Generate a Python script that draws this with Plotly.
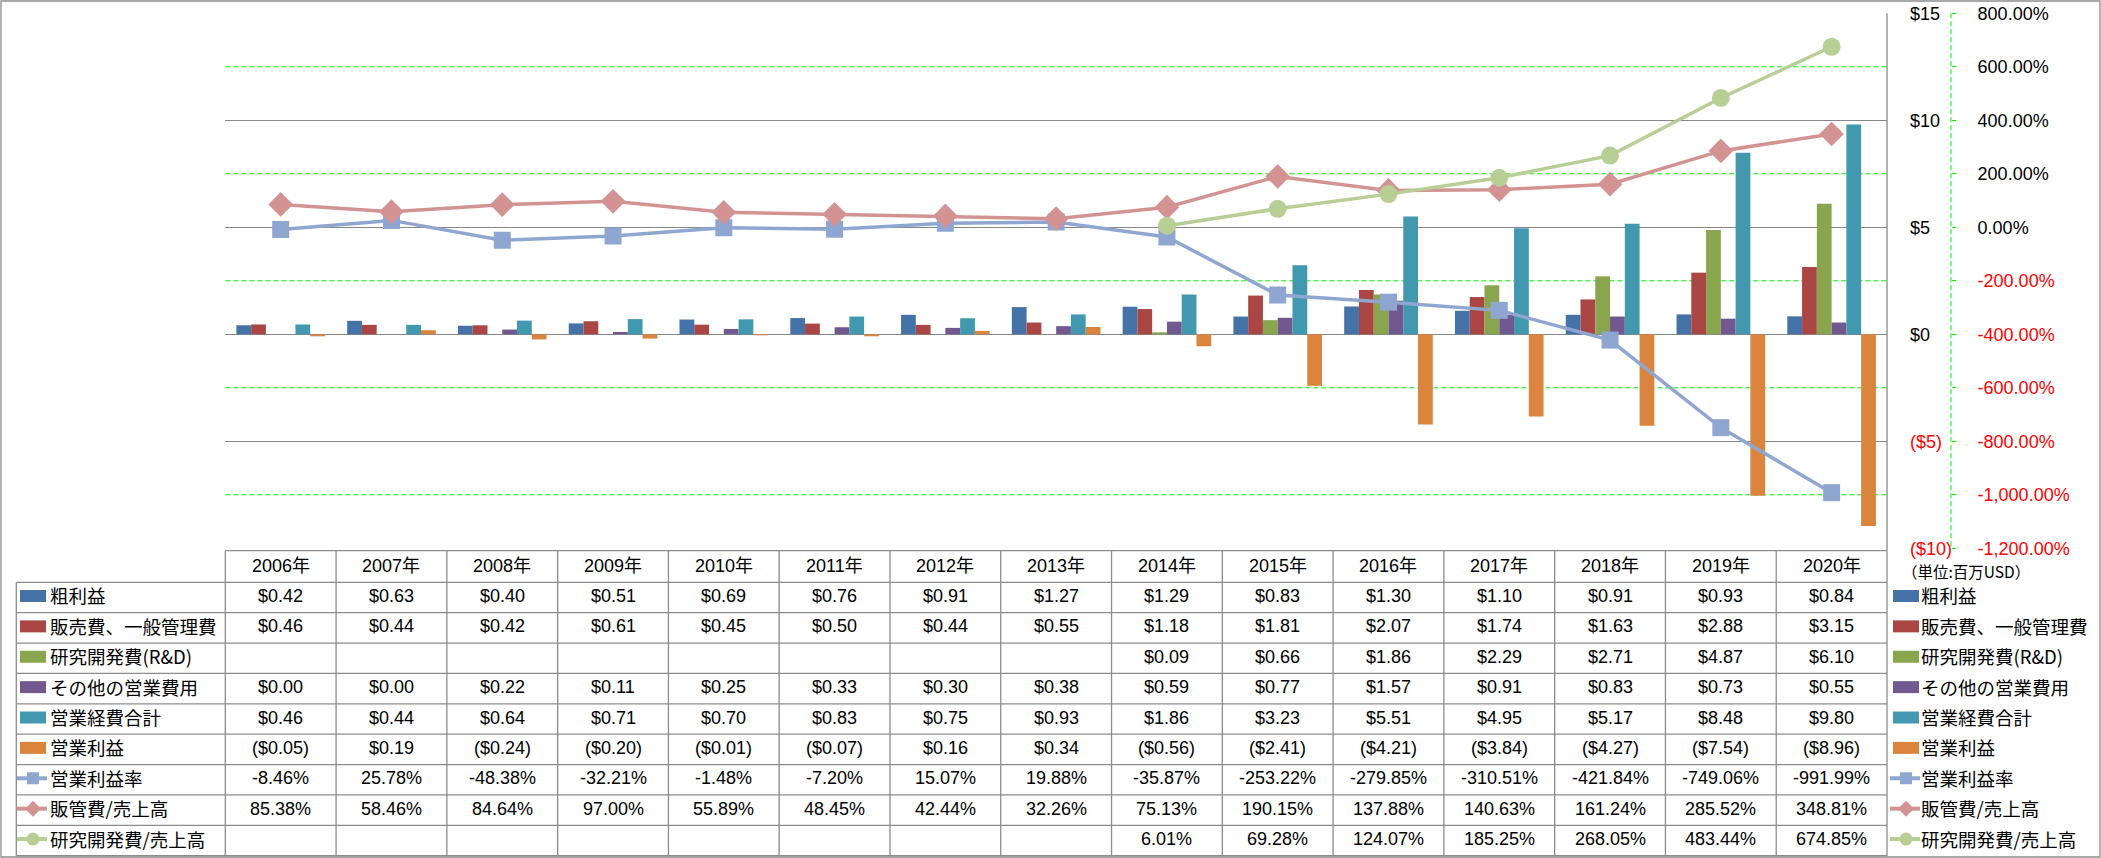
import plotly.graph_objects as go

# ---------------- data ----------------
years = ["2006年", "2007年", "2008年", "2009年", "2010年", "2011年", "2012年", "2013年",
         "2014年", "2015年", "2016年", "2017年", "2018年", "2019年", "2020年"]

gross_profit = [0.42, 0.63, 0.40, 0.51, 0.69, 0.76, 0.91, 1.27, 1.29, 0.83, 1.30, 1.10, 0.91, 0.93, 0.84]
sga = [0.46, 0.44, 0.42, 0.61, 0.45, 0.50, 0.44, 0.55, 1.18, 1.81, 2.07, 1.74, 1.63, 2.88, 3.15]
rnd = [None, None, None, None, None, None, None, None, 0.09, 0.66, 1.86, 2.29, 2.71, 4.87, 6.10]
other_opex = [0.00, 0.00, 0.22, 0.11, 0.25, 0.33, 0.30, 0.38, 0.59, 0.77, 1.57, 0.91, 0.83, 0.73, 0.55]
total_opex = [0.46, 0.44, 0.64, 0.71, 0.70, 0.83, 0.75, 0.93, 1.86, 3.23, 5.51, 4.95, 5.17, 8.48, 9.80]
op_income = [-0.05, 0.19, -0.24, -0.20, -0.01, -0.07, 0.16, 0.34, -0.56, -2.41, -4.21, -3.84, -4.27, -7.54, -8.96]

op_margin = [-8.46, 25.78, -48.38, -32.21, -1.48, -7.20, 15.07, 19.88, -35.87, -253.22, -279.85,
             -310.51, -421.84, -749.06, -991.99]
sga_ratio = [85.38, 58.46, 84.64, 97.00, 55.89, 48.45, 42.44, 32.26, 75.13, 190.15, 137.88,
             140.63, 161.24, 285.52, 348.81]
rnd_ratio = [None, None, None, None, None, None, None, None, 6.01, 69.28, 124.07, 185.25,
             268.05, 483.44, 674.85]

bar_names = ["粗利益", "販売費、一般管理費", "研究開発費(R&D)", "その他の営業費用", "営業経費合計", "営業利益"]
line_names = ["営業利益率", "販管費/売上高", "研究開発費/売上高"]

usd_ticks = [-10, -5, 0, 5, 10, 15]
pct_ticks = [-1200, -1000, -800, -600, -400, -200, 0, 200, 400, 600, 800]
unit_label = "（単位:百万USD）"

# ---------------- style / geometry ----------------
W, H = 2101, 858
PL, PR, PT, PB = 225.3, 1887.0, 13.3, 548.3
Y2X = 1951.0
HEAD_TOP = 550.7
ROW0 = 582.3
ROWH = 30.38
LBL_L = 16.3
GRID = "#878787"
TBL = "#8C8C8C"
GREEN = "#00F000"
RED = "#FF0000"
bar_colors = ["#4572A7", "#AA4643", "#89A54E", "#71588F", "#4198AF", "#DB843D"]
line_colors = ["#8FA7D0", "#D39392", "#B7CE95"]
line_symbols = ["square", "diamond", "circle"]
line_msize = [17, 19, 18]
NUMFONT = "Liberation Sans, Arial, Noto Sans CJK JP"
JPFONT = "Noto Sans CJK JP, Liberation Sans"
NUMSIZE = 18
LBLSIZE = 18.5


def px(x):
    return x / W


def py(y):
    return 1 - y / H


bar_series = [gross_profit, sga, rnd, other_opex, total_opex, op_income]
line_series = [op_margin, sga_ratio, rnd_ratio]

fig = go.Figure()
for name, vals, col in zip(bar_names, bar_series, bar_colors):
    fig.add_trace(go.Bar(x=years, y=vals, name=name, marker=dict(color=col, line=dict(width=0)),
                         showlegend=False, yaxis="y"))
for name, vals, col, sym, ms in zip(line_names, line_series, line_colors, line_symbols, line_msize):
    fig.add_trace(go.Scatter(x=years, y=vals, name=name, mode="lines+markers", yaxis="y2",
                             line=dict(color=col, width=3.5),
                             marker=dict(symbol=sym, size=ms, color=col, line=dict(width=0)),
                             showlegend=False))


def usd_fmt(v):
    if v is None:
        return ""
    if v < 0:
        return f"(${-v:.2f})"
    return f"${v:.2f}"


def pct_fmt(v):
    if v is None:
        return ""
    return f"{v:,.2f}%"


def usd_tick(v):
    if v < 0:
        return f'<span style="color:{RED}">(${-v})</span>'
    return f"${v}"


def pct_tick(v):
    t = f"{v:,.2f}%"
    if v < 0:
        return f'<span style="color:{RED}">{t}</span>'
    return t


shapes = []
annotations = []

# outer frame
shapes.append(dict(type="rect", xref="paper", yref="paper", x0=px(1), x1=px(2100), y0=py(857), y1=py(1),
                   line=dict(color=TBL, width=1.3), layer="above"))
# plot right border
shapes.append(dict(type="line", xref="paper", yref="paper", x0=px(PR), x1=px(PR), y0=py(PT), y1=py(HEAD_TOP),
                   line=dict(color=GRID, width=1.3)))
# green dashed secondary gridlines (those not covered by primary grid)
for v in pct_ticks:
    if (v - 800) % 400 != 0:
        shapes.append(dict(type="line", xref="paper", yref="y2", x0=px(PL), x1=px(PR), y0=v, y1=v,
                           line=dict(color=GREEN, width=1, dash="5px,3px"), layer="below"))
# green dashed secondary axis line
shapes.append(dict(type="line", xref="paper", yref="paper", x0=px(Y2X), x1=px(Y2X), y0=py(PT), y1=py(PB),
                   line=dict(color=GREEN, width=1, dash="5px,3px")))

# ---------------- data table ----------------
nrows = 9
row_edges = [ROW0 + ROWH * i for i in range(nrows + 1)]
shapes.append(dict(type="line", xref="paper", yref="paper", x0=px(PL), x1=px(PR), y0=py(HEAD_TOP), y1=py(HEAD_TOP),
                   line=dict(color=TBL, width=1.3)))
for ye in row_edges:
    shapes.append(dict(type="line", xref="paper", yref="paper", x0=px(LBL_L), x1=px(PR), y0=py(ye), y1=py(ye),
                       line=dict(color=TBL, width=1.3)))
shapes.append(dict(type="line", xref="paper", yref="paper", x0=px(LBL_L), x1=px(LBL_L), y0=py(ROW0),
                   y1=py(row_edges[-1]), line=dict(color=TBL, width=1.3)))
for k in range(len(years) + 1):
    xb = PL + (PR - PL) * k / len(years)
    shapes.append(dict(type="line", xref="paper", yref="paper", x0=px(xb), x1=px(xb), y0=py(HEAD_TOP),
                       y1=py(row_edges[-1]), line=dict(color=TBL, width=1.3)))

for yr in years:
    annotations.append(dict(x=yr, xref="x", y=py((HEAD_TOP + ROW0) / 2 - 1), yref="paper", text=yr,
                            showarrow=False, font=dict(family=NUMFONT, size=NUMSIZE, color="#000000"),
                            xanchor="center", yanchor="middle"))

row_texts = [[usd_fmt(v) for v in s] for s in bar_series] + [[pct_fmt(v) for v in s] for s in line_series]
row_labels = bar_names + line_names
for r in range(nrows):
    yc = ROW0 + ROWH * (r + 0.5)
    for yr, t in zip(years, row_texts[r]):
        if t:
            annotations.append(dict(x=yr, xref="x", y=py(yc - 1.5), yref="paper", text=t, showarrow=False,
                                    font=dict(family=NUMFONT, size=NUMSIZE, color="#000000"),
                                    xanchor="center", yanchor="middle"))
    for lx, tx in ((20.0, 47.5), (1893.0, 1919.0)):
        annotations.append(dict(x=px(tx), xref="paper", y=py(yc - 2), yref="paper", text=row_labels[r],
                                showarrow=False, font=dict(family=JPFONT, size=LBLSIZE, color="#000000"),
                                xanchor="left", yanchor="middle"))
        kc = yc - 1.5
        if r < 6:
            shapes.append(dict(type="rect", xref="paper", yref="paper", x0=px(lx), x1=px(lx + 26),
                               y0=py(kc + 6), y1=py(kc - 6), fillcolor=bar_colors[r], line=dict(width=0)))
        else:
            li = r - 6
            col = line_colors[li]
            cx = lx + 13
            shapes.append(dict(type="line", xref="paper", yref="paper", x0=px(lx - 3), x1=px(lx + 27),
                               y0=py(kc), y1=py(kc), line=dict(color=col, width=4)))
            if li == 0:
                shapes.append(dict(type="rect", xref="paper", yref="paper", x0=px(cx - 6), x1=px(cx + 6),
                                   y0=py(kc + 6), y1=py(kc - 6), fillcolor=col, line=dict(width=0)))
            elif li == 1:
                path = (f"M {px(cx - 8)} {py(kc)} L {px(cx)} {py(kc - 8)} L {px(cx + 8)} {py(kc)} "
                        f"L {px(cx)} {py(kc + 8)} Z")
                shapes.append(dict(type="path", xref="paper", yref="paper", path=path, fillcolor=col,
                                   line=dict(width=0)))
            else:
                shapes.append(dict(type="circle", xref="paper", yref="paper", x0=px(cx - 6.5), x1=px(cx + 6.5),
                                   y0=py(kc + 6.5), y1=py(kc - 6.5), fillcolor=col, line=dict(width=0)))

annotations.append(dict(x=px(1900), xref="paper", y=py(570.5), yref="paper", text=unit_label, showarrow=False,
                        font=dict(family=JPFONT, size=15.5, color="#000000"), xanchor="left", yanchor="middle"))

fig.update_layout(
    width=W, height=H,
    margin=dict(l=0, r=0, t=0, b=0, pad=0, autoexpand=False),
    paper_bgcolor="white", plot_bgcolor="rgba(0,0,0,0)",
    barmode="group", bargap=0.2, bargroupgap=0,
    showlegend=False,
    font=dict(family=NUMFONT, size=NUMSIZE, color="#000000"),
    xaxis=dict(domain=[px(PL), px(PR)], range=[-0.5, len(years) - 0.5], showticklabels=False,
               showgrid=False, zeroline=False, showline=False, ticks="", fixedrange=True,
               automargin=False),
    yaxis=dict(domain=[py(PB), py(PT)], range=[-10, 15], side="right", anchor="x",
               tickvals=usd_ticks, ticktext=[usd_tick(v) for v in usd_ticks], automargin=False,
               showgrid=True, gridcolor=GRID, gridwidth=1.3, zeroline=False, showline=False, ticks="",
               ticklabelstandoff=22, tickfont=dict(family=NUMFONT, size=NUMSIZE, color="#000000")),
    yaxis2=dict(range=[-1200, 800], overlaying="y", side="right", anchor="free", position=px(Y2X),
                tickvals=pct_ticks, ticktext=[pct_tick(v) for v in pct_ticks], automargin=False,
                showgrid=False, zeroline=False, showline=False, ticks="outside", ticklen=4,
                tickcolor=GREEN, tickwidth=1, ticklabelstandoff=18,
                tickfont=dict(family=NUMFONT, size=NUMSIZE, color="#000000")),
    shapes=shapes,
    annotations=annotations,
)

fig.write_html("out.html", config={"displayModeBar": False},
               post_script="document.body.style.margin='0px';document.body.style.overflow='hidden';")
